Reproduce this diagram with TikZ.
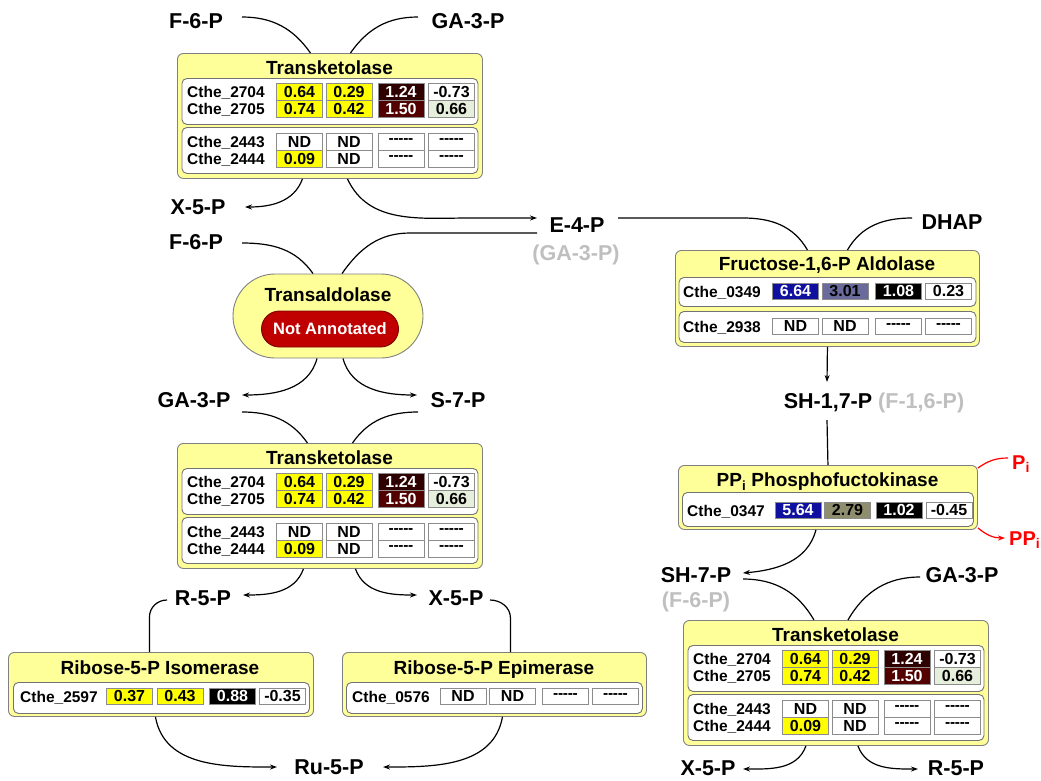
\documentclass[tikz,border=0pt]{standalone}
\usepackage{fontspec}
\setmainfont{Liberation Sans}
\usetikzlibrary{arrows.meta}
\definecolor{boxyellow}{HTML}{FFFF99}
\definecolor{cellyellow}{HTML}{FFFF00}
\definecolor{dkbrown}{HTML}{2E0000}
\definecolor{mdbrown}{HTML}{520000}
\definecolor{palegreen}{HTML}{E6EEDC}
\definecolor{cblue}{HTML}{1010A0}
\definecolor{cslate}{HTML}{6A6A9C}
\definecolor{colive}{HTML}{8E8E6E}
\definecolor{naRed}{HTML}{C00000}
\definecolor{naBorder}{HTML}{7A0000}
\definecolor{greytext}{HTML}{BFBFBF}
\definecolor{pired}{HTML}{FF0000}
\newcommand\dashes{-\kern-0.3pt-\kern-0.3pt-\kern-0.3pt-\kern-0.3pt-}
\tikzset{
 met/.style={font=\bfseries\fontsize{21.5}{24}\selectfont, inner sep=0pt, text height=15.4pt, text depth=0pt},
 metgrey/.style={met, text=greytext},
 redlbl/.style={font=\bfseries\fontsize{20}{22}\selectfont, inner sep=0pt, text=pired, text height=14.3pt, text depth=0pt},
 outerbox/.style={draw=black!50, line width=0.9pt, fill=boxyellow, rounded corners=6pt, inner sep=0pt},
 innerbox/.style={draw=black!55, line width=0.9pt, fill=white, rounded corners=5pt, inner sep=0pt},
 ttl/.style={font=\bfseries\fontsize{19}{22}\selectfont, inner sep=0pt, text height=13.6pt, text depth=0pt},
 gene/.style={font=\bfseries\fontsize{15.5}{18}\selectfont, inner sep=0pt, anchor=west, text height=11pt, text depth=0pt},
 cell/.style={draw=black!45, line width=0.7pt, fill=white, minimum width=46pt, minimum height=17pt, inner sep=0pt, font=\bfseries\fontsize{16}{18}\selectfont},
 dcell/.style={font=\bfseries\fontsize{15.5}{17}\selectfont},
 link/.style={line width=1.2pt, draw=black},
 arr/.style={link, -{Stealth[length=7pt,width=5pt]}},
 redlink/.style={line width=1.2pt, draw=pired},
 redarr/.style={redlink, -{Stealth[length=7pt,width=5pt]}},
}
\newcommand\TKbox[3]{%
 \node[outerbox, minimum width=305pt, minimum height=125pt, anchor=north west] (#1) at (#2,#3) {};
 \begin{scope}[shift={(#2,#3)}]
  \node[ttl] (#1t) at (152.5,14.5) {Transketolase};
  \node[innerbox, minimum width=296pt, minimum height=46pt, anchor=north west] (#1i1) at (4.5,25) {};
  \node[innerbox, minimum width=296pt, minimum height=46pt, anchor=north west] (#1i2) at (4.5,74) {};
  \node[gene] (#1g1) at (10,38.5) {Cthe\_2704};
  \node[gene] (#1g2) at (10,55.5) {Cthe\_2705};
  \node[gene] (#1g3) at (10,88.5) {Cthe\_2443};
  \node[gene] (#1g4) at (10,105.5) {Cthe\_2444};
  \node[cell, fill=cellyellow] (#1a1) at (122.5,38.5) {0.64};
  \node[cell, fill=cellyellow] (#1a2) at (172,38.5) {0.29};
  \node[cell, fill=dkbrown, text=white] (#1a3) at (224,38.5) {1.24};
  \node[cell] (#1a4) at (274.5,38.5) {-0.73};
  \node[cell, fill=cellyellow] (#1b1) at (122.5,55.5) {0.74};
  \node[cell, fill=cellyellow] (#1b2) at (172,55.5) {0.42};
  \node[cell, fill=mdbrown, text=white] (#1b3) at (224,55.5) {1.50};
  \node[cell, fill=palegreen] (#1b4) at (274.5,55.5) {0.66};
  \node[cell] (#1c1) at (122.5,88.5) {ND};
  \node[cell] (#1c2) at (172,88.5) {ND};
  \node[cell, dcell] (#1c3) at (224,88.5) {\dashes};
  \node[cell, dcell] (#1c4) at (274.5,88.5) {\dashes};
  \node[cell, fill=cellyellow] (#1d1) at (122.5,105.5) {0.09};
  \node[cell] (#1d2) at (172,105.5) {ND};
  \node[cell, dcell] (#1d3) at (224,105.5) {\dashes};
  \node[cell, dcell] (#1d4) at (274.5,105.5) {\dashes};
 \end{scope}}
\begin{document}
\begin{tikzpicture}[x=1pt,y=-1pt]
\useasboundingbox (0,0) rectangle (1041,780);

% ---------- enzyme boxes ----------
\TKbox{tk1}{177}{53}
\TKbox{tk2}{177}{443}
\TKbox{tk3}{683}{620}

% Transaldolase
\node[outerbox, rounded corners=42pt, minimum width=190pt, minimum height=84pt] (tald) at (328,316) {};
\node[ttl] (taldt) at (328,295) {Transaldolase};
\node[draw=naBorder, line width=0.9pt, fill=naRed, rounded corners=18pt, minimum width=137pt, minimum height=36pt, inner sep=0pt, text=white, font=\bfseries\fontsize{16.5}{19}\selectfont] (na) at (330,329) {Not Annotated};

% Aldolase
\node[outerbox, minimum width=304pt, minimum height=96pt, anchor=north west] (ald) at (675,250) {};
\begin{scope}[shift={(675,250)}]
 \node[ttl] (aldt) at (152,13.5) {Fructose-1,6-P Aldolase};
 \node[innerbox, minimum width=297pt, minimum height=29pt, anchor=north west] (aldi1) at (3.5,27) {};
 \node[innerbox, minimum width=297pt, minimum height=31pt, anchor=north west] (aldi2) at (3.5,61) {};
 \node[gene] (aldg1) at (8,42) {Cthe\_0349};
 \node[gene] (aldg2) at (8,77) {Cthe\_2938};
 \node[cell, minimum height=16pt, fill=cblue, text=white] (alda1) at (120.5,41) {6.64};
 \node[cell, minimum height=16pt, fill=cslate] (alda2) at (170,41) {3.01};
 \node[cell, minimum height=16pt, fill=black, text=white] (alda3) at (223.5,41) {1.08};
 \node[cell, minimum height=16pt] (alda4) at (273.5,41) {0.23};
 \node[cell, minimum height=16pt] (aldb1) at (120.5,76) {ND};
 \node[cell, minimum height=16pt] (aldb2) at (170,76) {ND};
 \node[cell, minimum height=16pt, dcell] (aldb3) at (223.5,76) {\dashes};
 \node[cell, minimum height=16pt, dcell] (aldb4) at (273.5,76) {\dashes};
\end{scope}

% PPi Phosphofructokinase
\node[outerbox, minimum width=299pt, minimum height=64pt, anchor=north west] (pfk) at (678,465) {};
\begin{scope}[shift={(678,465)}]
 \node[ttl] (pfkt) at (149.5,15) {PP\textsubscript{i} Phosphofuctokinase};
 \node[innerbox, minimum width=291pt, minimum height=34pt, anchor=north west] (pfki) at (4,27) {};
 \node[gene] (pfkg) at (9,45.5) {Cthe\_0347};
 \node[cell, minimum height=16pt, fill=cblue, text=white] (pfka1) at (120,45) {5.64};
 \node[cell, minimum height=16pt, fill=colive] (pfka2) at (169.5,45) {2.79};
 \node[cell, minimum height=16pt, fill=black, text=white] (pfka3) at (221,45) {1.02};
 \node[cell, minimum height=16pt] (pfka4) at (271,45) {-0.45};
\end{scope}

% Ribose-5-P Isomerase
\node[outerbox, minimum width=305pt, minimum height=64pt, anchor=north west] (iso) at (8,652) {};
\begin{scope}[shift={(8,652)}]
 \node[ttl] (isot) at (152,16) {Ribose-5-P Isomerase};
 \node[innerbox, minimum width=296pt, minimum height=31pt, anchor=north west] (isoi) at (5,30) {};
 \node[gene] (isog) at (12,45) {Cthe\_2597};
 \node[cell, minimum height=16pt, fill=cellyellow] (isoa1) at (121.5,44) {0.37};
 \node[cell, minimum height=16pt, fill=cellyellow] (isoa2) at (172,44) {0.43};
 \node[cell, minimum height=16pt, fill=black, text=white] (isoa3) at (224.5,44) {0.88};
 \node[cell, minimum height=16pt] (isoa4) at (274.5,44) {-0.35};
\end{scope}

% Ribose-5-P Epimerase
\node[outerbox, minimum width=304pt, minimum height=64pt, anchor=north west] (epi) at (342,652) {};
\begin{scope}[shift={(342,652)}]
 \node[ttl] (epit) at (152,16) {Ribose-5-P Epimerase};
 \node[innerbox, minimum width=296pt, minimum height=31pt, anchor=north west] (epii) at (4,30) {};
 \node[gene] (epig) at (10,45) {Cthe\_0576};
 \node[cell, minimum height=16pt] (epia1) at (121,44) {ND};
 \node[cell, minimum height=16pt] (epia2) at (170.5,44) {ND};
 \node[cell, minimum height=16pt, dcell] (epia3) at (223.5,44) {\dashes};
 \node[cell, minimum height=16pt, dcell] (epia4) at (273.5,44) {\dashes};
\end{scope}

% ---------- metabolites ----------
\node[met] (f6pA) at (196,21) {F-6-P};
\node[met] (ga3pA) at (468,21) {GA-3-P};
\node[met] (x5pA) at (198,207) {X-5-P};
\node[met] (e4p) at (577,225) {E-4-P};
\node[metgrey] (e4pg) at (576,253) {(GA-3-P)};
\node[met] (dhap) at (952,222) {DHAP};
\node[met] (f6pB) at (196,242) {F-6-P};
\node[met] (ga3pB) at (194,400) {GA-3-P};
\node[met] (s7p) at (458,400) {S-7-P};
\node[met] (sh17p) at (874,401) {SH-1,7-P \textcolor{greytext}{(F-1,6-P)}};
\node[met] (sh7p) at (696,575) {SH-7-P};
\node[metgrey] (f6pg) at (696,600) {(F-6-P)};
\node[met] (ga3pC) at (962,575) {GA-3-P};
\node[met] (r5pA) at (203,598) {R-5-P};
\node[met] (x5pB) at (456,598) {X-5-P};
\node[met] (ru5p) at (329,767) {Ru-5-P};
\node[met] (x5pC) at (708,768) {X-5-P};
\node[met] (r5pC) at (956,768) {R-5-P};
\node[redlbl, anchor=west] (pi) at (1012,462) {P\textsubscript{i}};
\node[redlbl, anchor=west] (ppi) at (1009,538) {PP\textsubscript{i}};

% ---------- connectors ----------
% top transketolase
\draw[link] ([xshift=46pt,yshift=4pt]f6pA.center) to[out=0,in=125] ([xshift=-19.5pt]tk1.north);
\draw[link] ([xshift=-50pt,yshift=4pt]ga3pA.center) to[out=180,in=55] ([xshift=20.5pt]tk1.north);
\draw[arr] ([xshift=-27.5pt]tk1.south) to[out=-110,in=0] ([xshift=47pt]x5pA.center);
\draw[arr] ([xshift=17.5pt]tk1.south) to[out=-65,in=180] ([xshift=-107pt,yshift=7pt]e4p.center) -- ([xshift=-40pt,yshift=7pt]e4p.center);
% aldolase
\draw[link] ([xshift=41pt,yshift=7pt]e4p.center) -- ([xshift=166pt,yshift=7pt]e4p.center) to[out=0,in=120] ([xshift=-20pt]ald.north);
\draw[link] ([xshift=-40pt,yshift=4pt]dhap.center) to[out=180,in=60] ([xshift=20pt]ald.north);
\draw[arr] (ald.south) -- ([xshift=-47pt,yshift=19pt]sh17p.center);
\draw[link] ([xshift=-47pt,yshift=-19pt]sh17p.center) -- (pfk.north);
% PFK
\draw[redlink] ([yshift=-3pt]pfk.north east) to[out=35,in=180] ([xshift=-4pt,yshift=4pt]pi.west);
\draw[redarr] ([yshift=2pt]pfk.south east) to[out=-40,in=180] ([xshift=-4pt]ppi.west);
\draw[arr] ([xshift=-12pt]pfk.south) to[out=-105,in=5] ([xshift=47pt,yshift=2pt]sh7p.center);
% bottom-right transketolase
\draw[link] ([xshift=47pt,yshift=-4pt]sh7p.center) to[out=0,in=120] ([xshift=-22pt]tk3.north);
\draw[link] ([xshift=-42pt,yshift=-2pt]ga3pC.center) to[out=180,in=60] ([xshift=12pt]tk3.north);
\draw[arr] ([xshift=-30pt]tk3.south) to[out=-110,in=0] ([xshift=35pt,yshift=-1pt]x5pC.center);
\draw[arr] ([xshift=22pt]tk3.south) to[out=-70,in=180] ([xshift=-38pt,yshift=-1pt]r5pC.center);
% transaldolase
\draw[link] ([xshift=46pt,yshift=-1pt]f6pB.center) to[out=0,in=125] ([xshift=-15pt]tald.north);
\draw[link] ([xshift=-40pt,yshift=-8pt]e4p.center) -- ([xshift=-167pt,yshift=-8pt]e4p.center) to[out=180,in=55] ([xshift=14pt]tald.north);
\draw[arr] ([xshift=-11pt]tald.south) to[out=-105,in=0] ([xshift=48pt,yshift=5pt]ga3pB.center);
\draw[arr] ([xshift=15pt]tald.south) to[out=-75,in=180] ([xshift=-41pt,yshift=5pt]s7p.center);
% middle transketolase
\draw[link] ([xshift=48pt,yshift=-12pt]ga3pB.center) to[out=0,in=125] ([xshift=-22.5pt]tk2.north);
\draw[link] ([xshift=-40pt,yshift=-12pt]s7p.center) to[out=180,in=55] ([xshift=22.5pt]tk2.north);
\draw[arr] ([xshift=-26.5pt]tk2.south) to[out=-110,in=0] ([xshift=40pt,yshift=3pt]r5pA.center);
\draw[arr] ([xshift=25.5pt]tk2.south) to[out=-70,in=180] ([xshift=-39pt,yshift=3pt]x5pB.center);
% isomerase / epimerase
\draw[link] ([xshift=-36pt,yshift=-2pt]r5pA.center) to[out=180,in=90] ([xshift=-11.5pt,yshift=35pt]iso.north) -- ([xshift=-11.5pt]iso.north);
\draw[arr] ([xshift=-5.5pt]iso.south) to[out=-80,in=180] ([xshift=-52pt]ru5p.center);
\draw[link] ([xshift=34pt,yshift=-2pt]x5pB.center) to[out=0,in=90] ([xshift=16pt,yshift=34pt]epi.north) -- ([xshift=16pt]epi.north);
\draw[arr] ([xshift=8pt]epi.south) to[out=-100,in=0] ([xshift=54pt]ru5p.center);
\end{tikzpicture}
\end{document}
